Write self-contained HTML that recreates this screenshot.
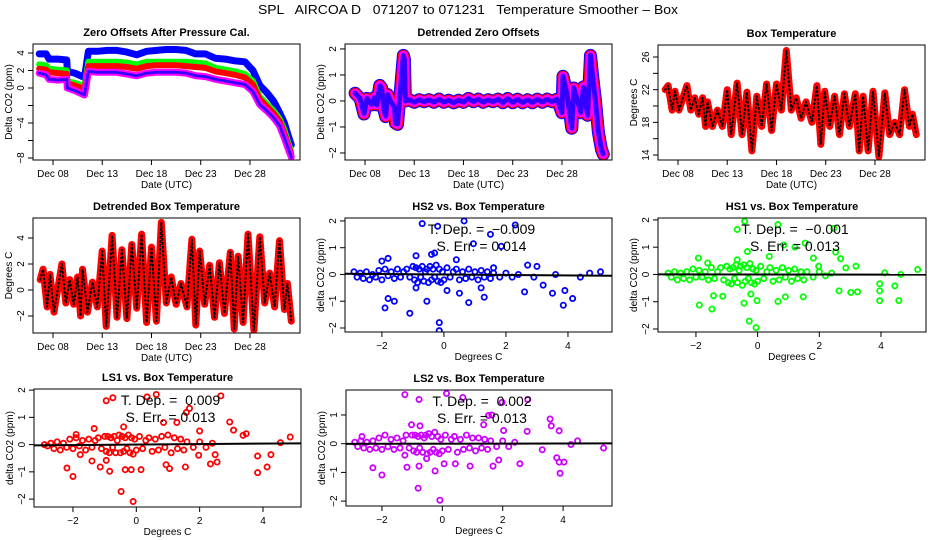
<!DOCTYPE html>
<html><head><meta charset="utf-8"><title>SPL AIRCOA D Temperature Smoother - Box</title>
<style>
html,body{margin:0;padding:0;background:#fff;}
svg{display:block;font-family:"Liberation Sans",sans-serif;}
</style></head>
<body>
<svg id="chart" width="936" height="540" viewBox="0 0 936 540" xmlns="http://www.w3.org/2000/svg">
<rect x="0" y="0" width="936" height="540" fill="#fff"/>
<text x="468" y="14" text-anchor="middle" font-size="13" style="white-space:pre" textLength="420" lengthAdjust="spacingAndGlyphs">SPL   AIRCOA D   071207 to 071231   Temperature Smoother – Box</text>
</svg>
<script>
// ---- Zero offsets (panel 1) ----
const zoDays = [6.6,7.3,7.6,8.5,9.4,9.45,10.2,11.2,11.6,12.5,13.5,14.5,15.5,16.5,17.5,18.5,19.5,20.5,21.5,22.5,23.5,24.5,25.5,26.5,27.5,28.3,29.0,29.7,30.4,31.0,31.5,31.9,32.2];
const zoBlue = [3.9,3.9,3.3,3.3,3.2,1.9,1.7,1.2,4.2,4.2,4.3,4.3,4.1,3.8,4.2,4.3,4.4,4.4,4.3,3.9,3.9,3.4,3.3,3.1,3.0,2.0,0.3,-0.5,-1.5,-2.8,-4.0,-5.5,-6.5];
const zoGreen = [2.7,2.6,2.2,2.1,2.0,0.8,0.6,0.2,3.0,3.0,3.0,3.0,2.9,2.7,3.0,3.0,3.0,3.0,3.0,2.9,2.8,2.3,2.1,1.9,1.6,0.8,-1.0,-1.8,-2.6,-3.5,-4.8,-6.3,-7.2];
const zoRed = [2.2,2.1,1.8,1.7,1.6,0.5,0.3,-0.1,2.5,2.5,2.5,2.5,2.4,2.2,2.5,2.6,2.6,2.6,2.5,2.4,2.3,1.9,1.7,1.5,1.2,0.4,-1.3,-2.1,-2.9,-3.8,-5.2,-6.6,-7.6];
const zoMag = [1.7,1.5,1.0,0.9,1.0,0,-0.3,-0.8,1.9,1.8,1.8,1.8,1.6,1.4,1.7,1.8,1.8,1.8,1.7,1.4,1.3,1.0,0.8,0.6,0.4,-0.4,-1.9,-2.6,-3.4,-4.3,-5.7,-7.0,-7.9];
// ---- Detrended zero offsets (panel 2) ----
const dzDays = [7.0,7.5,7.9,8.2,8.7,9.0,9.2,9.5,9.7,9.9,10.1,10.3,10.6,11.0,11.1,11.3,11.9,12.0,12.1,12.5,13.0,13.5,14.0,14.5,15.0,15.5,16.0,16.5,17.0,17.5,18.0,18.5,19.0,19.5,20.0,20.5,21.0,21.5,22.0,22.5,23.0,23.5,24.0,24.5,25.0,25.5,26.0,26.5,27.0,27.5,28.0,28.1,28.5,29.0,29.2,29.6,29.9,30.2,30.6,30.9,31.1,31.4,31.7,32.0,32.2];
const dzVals = [0.3,0.1,-0.5,0.1,-0.15,0.15,-0.15,0.6,0.5,-0.3,-0.6,0.25,0.0,-0.25,-0.85,-0.9,1.75,1.6,0.0,0.05,-0.05,0.05,-0.03,0.05,-0.05,0.07,-0.05,0.03,-0.07,0.03,-0.05,0.1,-0.03,0.07,-0.05,0.05,-0.03,0.07,-0.07,0.1,-0.07,0.07,-0.07,0.05,-0.07,0.07,-0.05,0.07,-0.03,0.07,-0.45,0.95,0.3,-1.05,0.5,0.0,-0.45,0.55,-0.55,1.75,1.0,0.0,-1.2,-1.85,-2.05];
// ---- Box temperature (panels 3, 4) ----
const btDays = [6.7,7.0,7.4,7.7,8.1,8.9,9.3,9.7,10.1,10.5,10.8,11.0,11.5,12.0,12.5,13.0,13.4,14.0,14.5,15.0,15.5,16.0,16.5,17.0,17.5,18.0,18.5,19.0,19.5,20.0,20.5,21.0,21.6,22.1,22.5,22.9,23.4,23.9,24.4,24.9,25.4,26.0,26.4,26.8,27.3,27.8,28.4,29.0,29.5,30.0,30.5,31.0,31.5,31.8,32.2];
const btVals = [22.0,22.5,19.5,21.8,19.5,22.5,19.5,21.0,19.0,21.0,17.5,20.5,17.5,19.5,17.5,22.0,16.5,22.8,16.5,21.7,14.5,21.2,17.5,22.7,17.0,22.7,19.5,26.8,19.5,21.0,18.5,20.5,18.0,22.5,15.3,21.8,17.5,21.2,16.5,21.5,17.5,21.5,14.5,21.2,14.5,21.8,13.8,21.6,16.5,18.0,16.5,22.0,17.5,19.0,16.5];
const dbtVals = [0.8,1.6,-1.3,1.2,-1.7,2.0,-1.0,0.8,-1.1,1.0,-2.0,1.6,-1.7,0.6,-1.3,3.0,-2.8,4.2,-2.1,3.1,-2.2,3.5,-1.4,4.3,-2.5,3.3,-2.4,5.2,-1.0,1.0,-1.1,0.5,-1.3,3.9,-2.7,3.0,-1.1,1.9,-2.1,2.1,-1.8,2.9,-3.0,2.6,-2.5,4.3,-3.1,4.1,-1.0,1.3,-1.3,3.8,-1.5,0.5,-2.4];
// ---- Scatter data ----
const clX = [-2.9,-2.8,-2.7,-2.6,-2.5,-2.4,-2.3,-2.2,-2.1,-2.0,-1.9,-1.8,-1.7,-1.6,-1.5,-1.4,-1.3,-1.2,-1.1,-1.0,-0.95,-0.9,-0.85,-0.8,-0.75,-0.7,-0.65,-0.6,-0.55,-0.5,-0.45,-0.4,-0.35,-0.3,-0.25,-0.2,-0.15,-0.1,-0.05,0.0,0.1,0.2,0.3,0.4,0.5,0.6,0.7,0.8,0.9,1.0,1.1,1.2,1.3,1.4,1.5,1.6,1.8,2.0,2.2,2.4];
const hs2ClY = [0.1,-0.1,0.05,-0.15,0.1,-0.2,0.0,-0.1,0.15,-0.2,0.2,-0.05,0.1,-0.15,0.2,-0.1,0.1,0.2,-0.1,0.3,-0.2,0.25,-0.3,0.2,-0.1,0.3,-0.25,0.1,0.2,-0.3,0.3,-0.2,0.2,-0.1,0.35,-0.25,0.2,-0.3,0.1,-0.2,0.25,-0.1,0.1,0.2,-0.2,0.1,-0.15,0.2,-0.1,0.1,-0.2,0.15,-0.1,0.1,-0.15,0.05,-0.1,0.05,-0.1,0.0];
const hs1ClY = [0.05,-0.1,0.1,-0.2,0.05,-0.15,0.1,-0.2,0.2,-0.1,0.15,-0.1,0.1,-0.2,0.25,-0.15,0.1,0.25,-0.2,0.3,-0.3,0.2,-0.35,0.25,-0.15,0.35,-0.3,0.15,0.3,-0.4,0.35,-0.25,0.25,-0.15,0.4,-0.3,0.2,-0.35,0.15,-0.25,0.3,-0.15,0.1,0.25,-0.25,0.15,-0.2,0.25,-0.1,0.15,-0.25,0.2,-0.15,0.1,-0.2,0.1,-0.1,0.1,-0.05,0.05];
const ls1ClY = [0.0,-0.05,0.05,-0.15,0.1,-0.2,0.05,-0.1,0.2,-0.15,0.25,-0.05,0.15,-0.2,0.2,-0.1,0.15,0.25,-0.15,0.3,-0.25,0.3,-0.3,0.25,-0.1,0.3,-0.3,0.15,0.35,-0.3,0.3,-0.25,0.25,-0.15,0.35,-0.3,0.25,-0.35,0.2,-0.2,0.3,-0.15,0.15,0.25,-0.25,0.2,-0.2,0.3,-0.1,0.35,-0.3,0.25,-0.15,0.2,-0.2,0.1,-0.1,0.1,-0.1,0.05];
const ls2ClY = [0.05,-0.1,0.1,-0.15,0.05,-0.2,0.1,-0.15,0.2,-0.2,0.3,-0.1,0.15,-0.2,0.2,-0.15,0.1,0.3,-0.15,0.3,-0.25,0.3,-0.3,0.25,-0.15,0.3,-0.3,0.2,0.3,-0.35,0.35,-0.3,0.25,-0.2,0.4,-0.3,0.25,-0.35,0.15,-0.25,0.3,-0.2,0.15,0.25,-0.3,0.15,-0.2,0.3,-0.15,0.2,-0.25,0.2,-0.15,0.15,-0.2,0.1,-0.1,0.1,-0.1,0.05];
const hs2OutX = [-1.9,-1.8,-1.6,-1.1,-0.7,-0.2,-0.15,-0.15,0.65,0.95,1.5,1.85,2.3,-1.8,2.6,3.2,3.85,4.15,5.05,0.8,1.3,0.5,-0.55,-0.9,-0.3,0.1,2.7,3.0,3.5,3.9,4.4,4.7,-0.9,0.4,1.2,-2.0,-0.4,1.6,2.9,3.6];
const hs2OutY = [-1.25,-0.9,-1.0,-1.45,1.9,1.8,-1.8,-2.1,2.0,1.15,1.5,1.05,1.85,0.6,-0.65,-0.4,-1.15,-0.9,0.1,-1.05,-0.85,-0.7,-1.0,0.7,0.8,-0.6,0.35,0.3,-0.7,-0.6,-0.1,0.05,-0.5,0.55,-0.5,0.5,0.75,0.25,-0.1,0.0];
const hs1OutX = [-0.66,-0.42,0.66,0.85,1.21,1.54,2.47,2.53,-1.89,-1.48,-1.43,-1.13,-0.44,-0.27,-0.05,-0.02,-0.22,0.66,0.9,1.48,2.64,3.02,3.24,3.96,3.96,4.58,4.45,3.96,5.19,-1.92,-1.62,0.38,1.81,2.69,2.86,3.19,1.98,-0.33,-0.66,4.64,4.12];
const hs1OutY = [1.65,1.95,1.83,1.08,1.0,1.15,1.69,0.82,-1.12,-1.27,-0.78,-0.8,-1.05,-1.71,-1.95,-0.96,-0.72,-0.99,-0.82,-0.82,-0.6,-0.66,-0.64,-0.6,-0.96,-0.96,-0.42,-0.34,0.18,0.6,0.42,0.66,0.6,0.58,0.24,0.3,0.3,0.84,0.54,0.0,0.06];
const ls1OutX = [-0.95,-0.74,0.34,0.63,2.67,1.68,1.58,1.28,0.86,2.95,3.07,3.47,3.37,4.86,4.55,-2.19,-2.0,-1.77,-1.4,-1.14,-0.95,-0.84,-0.35,-0.16,0.15,-0.48,-0.1,0.94,1.05,1.55,1.97,2.34,2.55,2.49,3.83,3.83,4.13,4.25,-1.33,-1.9,-0.4,2.0];
const ls1OutY = [1.61,1.72,1.75,1.84,1.79,1.33,1.18,0.81,0.81,0.83,0.53,0.4,0.34,0.28,0.07,-0.86,-1.17,-0.37,-0.6,-0.82,-0.58,-0.98,-0.92,-0.92,-0.92,-1.72,-2.09,-0.74,-0.88,-0.82,-0.39,-0.71,-0.64,-0.37,-0.42,-1.03,-0.82,-0.37,0.59,0.37,0.65,0.5];
const ls2OutX = [-1.24,-0.77,0.14,0.68,1.98,2.83,1.53,1.64,3.57,3.61,3.87,2.81,1.37,2.03,-1.02,-0.74,-2.66,5.34,4.48,-2.3,-2.0,-1.17,-0.77,-0.8,-0.24,-0.08,0.06,0.43,0.92,1.68,1.87,2.57,3.79,3.87,3.9,4.03,-1.24,-0.52,4.26,3.31];
const ls2OutY = [1.71,1.54,1.75,1.61,1.44,1.54,0.98,1.0,0.86,0.62,0.45,0.43,0.66,0.46,0.66,0.62,0.25,-0.15,0.1,-0.84,-1.09,-0.82,-0.78,-1.55,-0.95,-1.97,-0.7,-0.7,-0.78,-0.78,-0.57,-0.7,-0.49,-0.64,-1.03,-0.64,-0.4,-0.52,-0.03,-0.21];
const slopes = [-0.009,-0.001,0.009,0.002];
const seLabels = ["0.014","0.013","0.013","0.013"];
const depLabels = ["−0.009","−0.001","0.009","0.002"];
const dateTickDays = [8,13,18,23,28];
const dateTickLabels = ["Dec 08","Dec 13","Dec 18","Dec 23","Dec 28"];

const NS = "http://www.w3.org/2000/svg";
const svg = document.getElementById("chart");
function mk(parent, tag, attrs, txt){
  const e = document.createElementNS(NS, tag);
  for (const k in attrs) e.setAttribute(k, attrs[k]);
  if (txt !== undefined) e.textContent = txt;
  parent.appendChild(e);
  return e;
}
function scale(d0,d1,p0,p1){ return v => p0 + (v-d0)/(d1-d0)*(p1-p0); }

function panel(name, L, R, T, B, xd, yd, title, xTitle, yTitle, yTicks, yLabels, xTicks, xLabels){
  const g = mk(svg, "g", {});
  
  
  const sx = scale(xd[0], xd[1], L, R), sy = scale(yd[0], yd[1], B, T);
  const t = mk(g, "text", {x:(L+R)/2, y:T-8, "text-anchor":"middle", "font-size":"11", "font-weight":"bold"}, title);
  
  
  const ax = mk(g, "g", {stroke:"#000", "stroke-width":"1", fill:"none"});
  
  
  const xt0 = sx(xTicks[0]), xt1 = sx(xTicks[xTicks.length-1]);
  mk(ax, "line", {x1:L, x2:L, y1:sy(yTicks[0]), y2:sy(yTicks[yTicks.length-1])});
  mk(ax, "line", {x1:xt0, x2:xt1, y1:B, y2:B});
  xTicks.forEach((v,i)=>{
    const x = sx(v);
    mk(ax, "line", {x1:x, x2:x, y1:B, y2:B+5});
    const lb = mk(g, "text", {x:x, y:B+17, "text-anchor":"middle", "font-size":"10"}, xLabels[i]);
    
    
  });
  yTicks.forEach((v,i)=>{
    const y = sy(v);
    mk(ax, "line", {x1:L, x2:L-5, y1:y, y2:y});
    if (yLabels[i] !== "") {
      const lb = mk(g, "text", {x:L-9, y:y, "text-anchor":"middle", "font-size":"10", transform:`rotate(-90 ${L-9} ${y})`}, yLabels[i]);
      
      
    }
  });
  const xt = mk(g, "text", {x:(L+R)/2, y:B+28, "text-anchor":"middle", "font-size":"10"}, xTitle);
  
  
  const yy = (T+B)/2;
  const yt = mk(g, "text", {x:L-21, y:yy, "text-anchor":"middle", "font-size":"10", transform:`rotate(-90 ${L-21} ${yy})`}, yTitle);
  
  
  const clipId = "c" + name;
  const cp = mk(g, "clipPath", {id:clipId});
  mk(cp, "rect", {x:L, y:T, width:R-L, height:B-T});
  const plot = mk(g, "g", {"clip-path":`url(#${clipId})`});
  
  
  const box = mk(g, "rect", {x:L, y:T, width:R-L, height:B-T, fill:"none", stroke:"#000", "stroke-width":"1"});
  
  
  return {plot, sx, sy, g};
}
function pts(days, vals, p){ return days.map((d,i)=>p.sx(d).toFixed(1)+","+p.sy(vals[i]).toFixed(1)).join(" "); }
function band(p, days, vals, color, w, name){
  const l = mk(p.plot, "polyline", {points:pts(days, vals, p), fill:"none", stroke:color, "stroke-width":w, "stroke-linejoin":"round", "stroke-linecap":"round"});
  
  
  return l;
}

// Panel 1
const p1 = panel("zero-offsets-panel", 33, 300, 44, 160, [5.97,33.08], [-8.23,5.03], "Zero Offsets After Pressure Cal.", "Date (UTC)", "Delta CO2 (ppm)", [-8,-6,-4,-2,0,2,4], ["−8","","−4","","0","2","4"], dateTickDays, dateTickLabels);
band(p1, zoDays, zoBlue, "#0000ff", 7, "series-blue");
band(p1, zoDays, zoGreen, "#00ff00", 6, "series-green");
band(p1, zoDays, zoRed, "#ff0000", 6, "series-red");
band(p1, zoDays, zoMag, "#ff00ff", 7, "series-magenta");
band(p1, zoDays, zoMag, "#3300ff", 3, "series-magenta-texture").setAttribute("stroke-dasharray","1 2");

// Panel 2
const p2 = panel("detrended-zero-offsets-panel", 345, 612, 44, 160, [5.97,33.08], [-2.27,2.19], "Detrended Zero Offsets", "Date (UTC)", "Delta CO2 (ppm)", [-2,-1,0,1,2], ["−2","−1","0","1","2"], dateTickDays, dateTickLabels);
band(p2, dzDays, dzVals, "#0000ff", 13, "detrended-blue");
band(p2, dzDays, dzVals, "#ff0000", 11, "detrended-red");
band(p2, dzDays, dzVals, "#ff00ff", 9, "detrended-magenta");
band(p2, dzDays, dzVals, "#3300ff", 5, "detrended-texture").setAttribute("stroke-dasharray","1 2");

// Panel 3
const p3 = panel("box-temperature-panel", 658, 925, 45, 160, [5.97,33.08], [13.39,27.47], "Box Temperature", "Date (UTC)", "Degrees C", [14,16,18,20,22,24,26], ["14","","18","","22","","26"], dateTickDays, dateTickLabels);
band(p3, btDays, btVals, "#ff0000", 7, "box-temp-series");
band(p3, btDays, btVals, "#000", 2, "box-temp-texture").setAttribute("stroke-dasharray","1 3");

// Panel 4
const p4 = panel("detrended-box-temperature-panel", 33, 300, 218, 333, [5.97,33.08], [-3.31,5.54], "Detrended Box Temperature", "Date (UTC)", "Degrees C", [-2,0,2,4], ["−2","0","2","4"], dateTickDays, dateTickLabels);
band(p4, btDays, dbtVals, "#ff0000", 7, "detrended-box-temp-series");
band(p4, btDays, dbtVals, "#000", 2, "detrended-box-temp-texture").setAttribute("stroke-dasharray","1 3");

// Scatter panels
function scatter(name, L, R, T, B, xd, yd, title, color, clY, oX, oY, idx, yTicks, yLabels){
  const p = panel(name, L, R, T, B, xd, yd, title, "Degrees C", "delta CO2 (ppm)", yTicks, yLabels, [-2,0,2,4], ["−2","0","2","4"]);
  clX.forEach((x,i)=>{
    const c = mk(p.plot, "circle", {cx:p.sx(x), cy:p.sy(clY[i]), r:2.6, fill:"none", stroke:color, "stroke-width":1.8});
    
    
  });
  oX.forEach((x,i)=>{
    const c = mk(p.plot, "circle", {cx:p.sx(x), cy:p.sy(oY[i]), r:2.6, fill:"none", stroke:color, "stroke-width":1.8});
    
    
  });
  const ln = mk(p.plot, "line", {x1:p.sx(xd[0]), y1:p.sy(slopes[idx]*xd[0]), x2:p.sx(xd[1]), y2:p.sy(slopes[idx]*xd[1]), stroke:"#000", "stroke-width":2});
  
  
  const cx = (L+R)/2 + 3;
  const t1 = mk(p.g, "text", {x:cx, y:T+16, "text-anchor":"middle", "font-size":"14", style:"white-space:pre"}, "T. Dep. =  " + depLabels[idx]);
  
  
  const t2 = mk(p.g, "text", {x:cx, y:T+33, "text-anchor":"middle", "font-size":"14"}, "S. Err. = " + seLabels[idx]);
  
  
}
scatter("hs2-scatter-panel", 345, 612, 218, 332, [-3.19,5.42], [-2.15,2.11], "HS2 vs. Box Temperature", "#0000ff", hs2ClY, hs2OutX, hs2OutY, 0, [-2,-1,0,1,2], ["−2","−1","0","1","2"]);
scatter("hs1-scatter-panel", 658, 926, 218, 332, [-3.23,5.46], [-2.11,2.07], "HS1 vs. Box Temperature", "#00ff00", hs1ClY, hs1OutX, hs1OutY, 1, [-2,-1,0,1,2], ["−2","−1","0","1","2"]);
scatter("ls1-scatter-panel", 34, 301, 389, 507, [-3.23,5.2], [-2.29,2.04], "LS1 vs. Box Temperature", "#ff0000", ls1ClY, ls1OutX, ls1OutY, 2, [-2,-1,0,1,2], ["−2","−1","0","1","2"]);
scatter("ls2-scatter-panel", 346, 612, 390, 506, [-3.19,5.62], [-2.17,1.87], "LS2 vs. Box Temperature", "#cc00ff", ls2ClY, ls2OutX, ls2OutY, 3, [-2,-1,0,1], ["−2","−1","0","1"]);
</script>
</body></html>
